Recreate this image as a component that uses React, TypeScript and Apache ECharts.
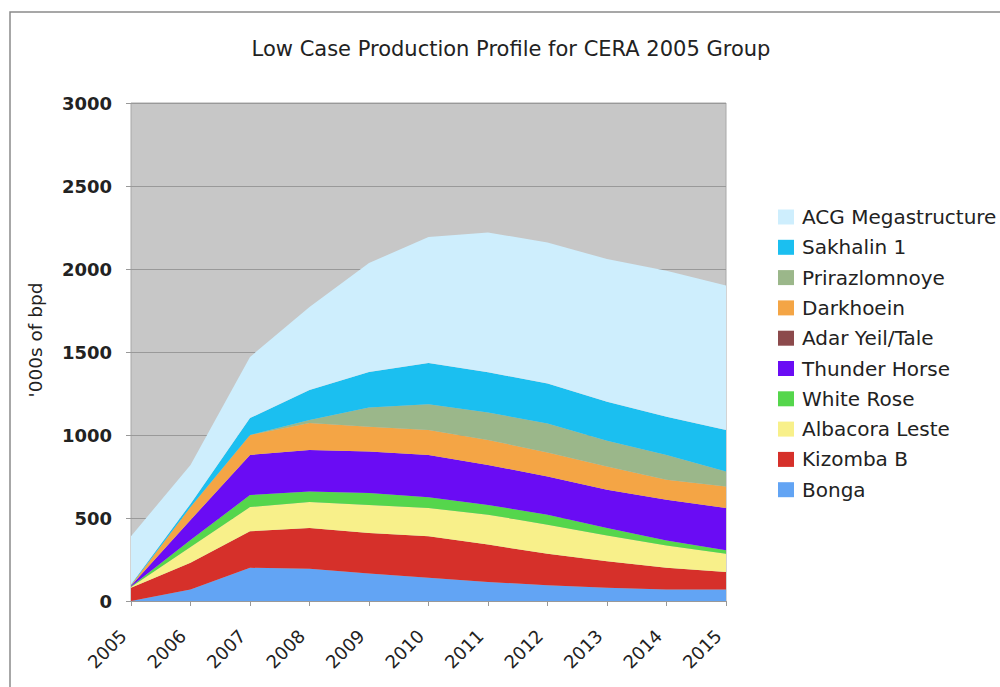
import React, { useEffect, useRef } from "react";
import * as echarts from "echarts";

const years = ["2005", "2006", "2007", "2008", "2009", "2010", "2011", "2012", "2013", "2014", "2015"];

const bonga = [0, 70, 200, 195, 165, 140, 115, 95, 80, 70, 70];
const kizombaB = [80, 160, 220, 245, 245, 250, 225, 190, 160, 130, 105];
const albacoraLeste = [5, 95, 146, 156, 168, 170, 180, 175, 155, 135, 110];
const whiteRose = [3, 42, 72, 64, 72, 65, 58, 60, 45, 30, 20];
const thunderHorse = [4, 121, 242, 250, 250, 255, 242, 230, 230, 245, 255];
const adarYeilTale = [0, 0, 0, 0, 0, 0, 0, 0, 0, 0, 0];
const darkhoein = [3, 78, 120, 162, 150, 150, 150, 145, 140, 120, 130];
const prirazlomnoye = [0, 0, 0, 18, 115, 155, 165, 175, 155, 150, 90];
const sakhalin1 = [5, 19, 102, 181, 215, 249, 243, 240, 235, 230, 250];
const acgMegastructure = [290, 235, 368, 500, 656, 759, 842, 850, 860, 880, 870];

const yTicks = [0, 500, 1000, 1500, 2000, 2500, 3000];

const seriesDefs = [
  { name: "Bonga", data: bonga, color: "#62a4f4" },
  { name: "Kizomba B", data: kizombaB, color: "#d6302a" },
  { name: "Albacora Leste", data: albacoraLeste, color: "#f8f08a" },
  { name: "White Rose", data: whiteRose, color: "#55d64c" },
  { name: "Thunder Horse", data: thunderHorse, color: "#6a0cf4" },
  { name: "Adar Yeil/Tale", data: adarYeilTale, color: "#8c4a4c" },
  { name: "Darkhoein", data: darkhoein, color: "#f4a545" },
  { name: "Prirazlomnoye", data: prirazlomnoye, color: "#9bb78a" },
  { name: "Sakhalin 1", data: sakhalin1, color: "#1bbff0" },
  { name: "ACG Megastructure", data: acgMegastructure, color: "#ceeefd" },
];

export default function App() {
  const ref = useRef<HTMLDivElement>(null);
  useEffect(() => {
    if (!ref.current) return;
    const chart = echarts.init(ref.current, null, { renderer: "svg" });
    const font = "DejaVu Sans";
    chart.setOption({
      animation: false,
      backgroundColor: "#ffffff",
      title: {
        text: "Low Case Production Profile for CERA 2005 Group",
        left: 506,
        textAlign: "center",
        top: 33,
        textStyle: { fontFamily: font, fontSize: 21, fontWeight: "normal", color: "#222" },
      },
      graphic: [
        {
          type: "rect",
          shape: { x: 10, y: 12, width: 1000, height: 700 },
          style: { fill: "none", stroke: "#8a8a8a", lineWidth: 1.5 },
          silent: true,
        },
      ],
      legend: {
        orient: "vertical",
        left: 773,
        top: 202,
        icon: "rect",
        itemWidth: 16,
        itemHeight: 15,
        itemGap: 10.3,
        data: seriesDefs.map((s) => s.name).reverse(),
        textStyle: { fontFamily: font, fontSize: 20, color: "#222", padding: [0, 0, 0, 3] },
      },
      grid: {
        left: 131,
        right: 274,
        top: 103,
        bottom: 86,
        show: true,
        backgroundColor: "#c7c7c7",
        borderColor: "#a8a8a8",
        borderWidth: 1,
      },
      xAxis: {
        type: "category",
        data: years,
        boundaryGap: false,
        axisLine: { lineStyle: { color: "#999" } },
        axisTick: { show: true, length: 5, lineStyle: { color: "#999" } },
        axisLabel: {
          rotate: 45,
          fontFamily: font,
          fontSize: 18,
          color: "#222",
          margin: 24,
          padding: [0, 11, 0, 0],
        },
      },
      yAxis: {
        type: "value",
        min: yTicks[0],
        max: yTicks[yTicks.length - 1],
        interval: 500,
        name: "'000s of bpd",
        nameLocation: "middle",
        nameRotate: 90,
        nameGap: 86,
        nameTextStyle: { fontFamily: font, fontSize: 18.5, color: "#222", padding: [0, 0, 0, 24] },
        axisLine: { show: false },
        axisTick: { show: true, length: 5, lineStyle: { color: "#999" } },
        axisLabel: {
          fontFamily: font,
          fontSize: 18,
          fontWeight: "bold",
          color: "#222",
          margin: 19,
          formatter: (v: number) => String(v),
        },
        splitLine: { lineStyle: { color: "#999", width: 1 } },
      },
      series: seriesDefs.map((s) => ({
        name: s.name,
        type: "line",
        stack: "total",
        data: s.data,
        symbol: "none",
        smooth: false,
        color: s.color,
        lineStyle: { width: 0 },
        areaStyle: { color: s.color, opacity: 1 },
      })),
    });
    return () => chart.dispose();
  }, []);
  return <div ref={ref} style={{ position: "fixed", left: 0, top: 0, width: 1000, height: 687 }} />;
}
